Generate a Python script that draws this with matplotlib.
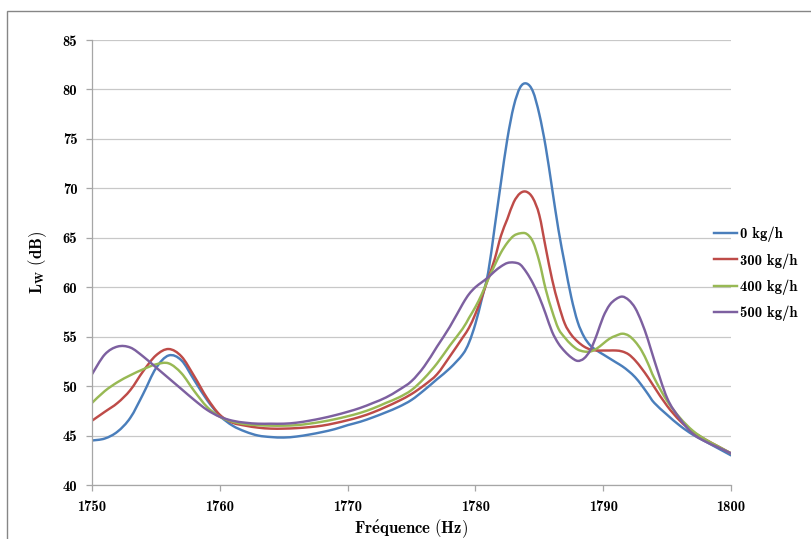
import numpy as np
import matplotlib
matplotlib.use("Agg")
import matplotlib.pyplot as plt
from matplotlib.patches import Rectangle, PathPatch
from matplotlib.path import Path
from matplotlib.lines import Line2D

plt.rcParams['mathtext.fontset'] = 'cm'
plt.rcParams['font.family'] = ['cmb10', 'DejaVu Serif']
plt.rcParams['axes.unicode_minus'] = False

# fréquences (Hz) et niveaux de puissance
freq = [1750, 1751, 1752, 1753, 1754, 1755, 1756, 1757, 1758, 1759,
        1760, 1761, 1762, 1763, 1764, 1765, 1766, 1767, 1768, 1769,
        1770, 1771, 1772, 1773, 1774, 1775, 1776, 1777, 1778, 1779,
        1779.5, 1780, 1780.5, 1781, 1781.5, 1782, 1782.5, 1783, 1783.5, 1784,
        1784.5, 1785, 1785.5, 1786, 1786.5, 1787, 1787.5, 1788, 1788.5, 1789,
        1789.5, 1790, 1790.5, 1791, 1791.5, 1792, 1792.5, 1793, 1793.5, 1794,
        1795, 1796, 1797, 1798, 1799, 1800]

lw_0 = [44.5, 44.7, 45.4, 46.8, 49.2, 51.8, 53.1, 52.6, 50.6, 48.6,
        47.0, 46.0, 45.4, 45.0, 44.85, 44.8, 44.9, 45.1, 45.35, 45.65,
        46.05, 46.4, 46.85, 47.35, 47.9, 48.6, 49.6, 50.7, 51.8, 53.2,
        54.4, 56.3, 58.8, 61.5, 66.0, 70.6, 75.0, 78.3, 80.2, 80.6,
        79.8, 77.5, 74.2, 70.0, 65.8, 62.3, 59.0, 56.5, 55.0, 54.1,
        53.6, 53.2, 52.8, 52.4, 52.0, 51.5, 50.9, 50.1, 49.2, 48.3,
        47.1, 46.0, 45.1, 44.4, 43.7, 43.0]

lw_300 = [46.5, 47.4, 48.3, 49.6, 51.5, 53.1, 53.75, 53.0, 51.0, 48.8,
          47.1, 46.3, 46.0, 45.8, 45.7, 45.7, 45.75, 45.85, 46.0, 46.25,
          46.55, 46.9, 47.35, 47.9, 48.5, 49.2, 50.1, 51.2, 53.0, 54.9,
          55.9, 57.3, 59.0, 60.9, 62.8, 65.2, 66.9, 68.6, 69.5, 69.65,
          69.0, 67.3, 64.0, 60.8, 58.3, 56.3, 55.2, 54.5, 54.0, 53.7,
          53.6, 53.6, 53.6, 53.6, 53.5, 53.2, 52.6, 51.8, 50.9, 49.9,
          48.0, 46.5, 45.4, 44.6, 43.9, 43.2]

lw_400 = [48.3, 49.5, 50.4, 51.1, 51.7, 52.2, 52.3, 51.3, 49.5, 47.9,
          46.9, 46.4, 46.15, 46.05, 46.0, 46.0, 46.05, 46.2, 46.4, 46.65,
          46.95, 47.3, 47.75, 48.3, 48.85, 49.6, 50.8, 52.3, 54.1, 55.8,
          56.9, 58.0, 59.3, 60.8, 62.2, 63.5, 64.5, 65.2, 65.45, 65.4,
          64.6, 62.6, 59.8, 57.6, 55.8, 54.9, 54.2, 53.7, 53.5, 53.5,
          53.8, 54.3, 54.8, 55.1, 55.3, 55.1, 54.5, 53.6, 52.3, 50.8,
          48.5, 46.8, 45.5, 44.6, 43.9, 43.2]

lw_500 = [51.2, 53.2, 54.0, 53.9, 53.0, 51.9, 50.8, 49.7, 48.6, 47.6,
          46.9, 46.5, 46.3, 46.2, 46.2, 46.2, 46.3, 46.5, 46.75, 47.05,
          47.4, 47.8, 48.3, 48.85, 49.6, 50.5, 52.0, 54.0, 56.0, 58.3,
          59.3, 60.0, 60.5, 61.0, 61.6, 62.1, 62.45, 62.5, 62.3, 61.5,
          60.4, 59.0, 57.3, 55.5, 54.3, 53.5, 52.9, 52.55, 52.8, 53.65,
          55.2, 57.0, 58.2, 58.8, 59.05, 58.7, 57.9, 56.5, 54.7, 52.6,
          48.8, 46.7, 45.2, 44.4, 43.8, 43.2]

series = [
    (lw_0, '0 kg/h', '#4a7ebb'),
    (lw_300, '300 kg/h', '#be4b48'),
    (lw_400, '400 kg/h', '#98b954'),
    (lw_500, '500 kg/h', '#7d60a0'),
]


def smooth_path(x, y):
    """Courbe lissée façon Excel : segments de Bézier passant par chaque point."""
    pts = np.column_stack([x, y]).astype(float)
    n = len(pts)
    verts = [pts[0]]
    codes = [Path.MOVETO]
    for i in range(n - 1):
        p0 = pts[i - 1] if i > 0 else pts[i]
        p1 = pts[i]
        p2 = pts[i + 1]
        p3 = pts[i + 2] if i + 2 < n else pts[i + 1]
        c1 = p1 + (p2 - p0) / 6.0
        c2 = p2 - (p3 - p1) / 6.0
        verts += [c1, c2, p2]
        codes += [Path.CURVE4] * 3
    return Path(verts, codes)


fig = plt.figure(figsize=(8.11, 5.39), dpi=100)
ax = fig.add_axes([92 / 811, 54 / 539, 639 / 811, 445 / 539])

handles = []
for vals, label, color in series:
    ax.add_patch(PathPatch(smooth_path(freq, vals), fill=False,
                           edgecolor=color, linewidth=1.75, capstyle='round',
                           joinstyle='round'))
    handles.append(Line2D([], [], color=color, linewidth=1.75, label=label))

ax.set_xlim(1750, 1800)
ax.set_ylim(40, 85)
ax.set_xticks(np.arange(1750, 1801, 10))
ax.set_yticks(np.arange(40, 86, 5))

ax.grid(axis='y', color='#c8c8c8', linewidth=0.9)
ax.set_axisbelow(True)
for side in ['top', 'right']:
    ax.spines[side].set_visible(False)
for side in ['left', 'bottom']:
    ax.spines[side].set_color('#a6a6a6')
    ax.spines[side].set_linewidth(0.9)
ax.tick_params(axis='both', direction='out', length=4.5, width=0.9,
               color='#a6a6a6', labelsize=10.5, pad=6)

ax.set_xlabel(r'$\mathbf{Fr\acute{e}quence\ (Hz)}$', fontsize=12, labelpad=3)
ax.set_ylabel(r'$\mathbf{L_W\ (dB)}$', fontsize=12, labelpad=10)

fig.legend(handles=handles, loc='center left',
           bbox_to_anchor=(714 / 811, 1 - 274 / 539),
           frameon=False, fontsize=10.5, handlelength=1.6, handletextpad=0.2,
           labelspacing=0.75, borderpad=0, borderaxespad=0)

# cadre extérieur de la zone graphique
fig.patches.append(Rectangle((7 / 811, -0.1), 1.2, 1 - 11 / 539 + 0.1,
                             transform=fig.transFigure, fill=False,
                             edgecolor='#868686', linewidth=1.0))

fig.savefig('out.png', dpi=100)
